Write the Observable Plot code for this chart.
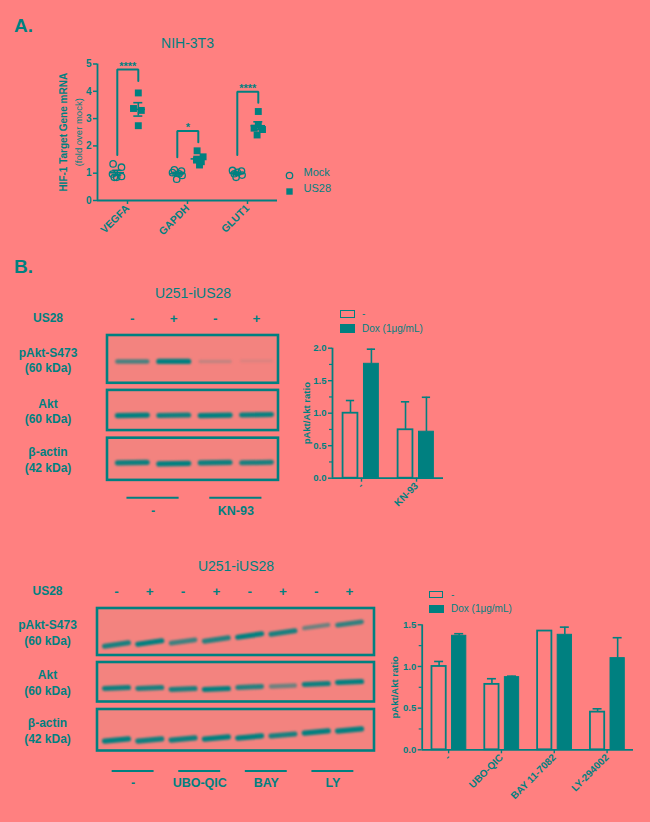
<!DOCTYPE html>
<html><head><meta charset="utf-8">
<script src="https://cdn.jsdelivr.net/npm/d3@7"></script>
<script src="https://cdn.jsdelivr.net/npm/@observablehq/plot@0.6"></script>
<style>
html,body{margin:0;padding:0;background:#ff8080;}
#root{position:relative;width:650px;height:822px;background:#ff8080;font-family:"Liberation Sans",Arial,Helvetica,sans-serif;color:#008080;overflow:hidden}
.letter{position:absolute;font-weight:bold;font-size:19px;line-height:1;}
.sw{position:absolute;box-sizing:border-box;border:1.7px solid #008080;background:#ff8080}
.sw.f{background:#008080}
.lt{position:absolute;font-size:10px;line-height:10px;white-space:nowrap}
svg.blot g[aria-label="link"]{filter:blur(1.2px)}
</style>
</head><body><div id="root"></div>
<script>
// ---------------- DATA ----------------
// Panel A: NIH-3T3 HIF-1 target gene mRNA (fold over mock)
const geneCategories = ["VEGFA", "GAPDH", "GLUT1"];
const mockValues = [
  [1.34, 1.22, 0.97, 0.88, 0.85, 0.85],
  [1.12, 1.08, 1.02, 0.98, 0.92, 0.78],
  [1.10, 1.08, 1.03, 0.98, 0.93, 0.85]
];
const mockSpread = [
  [-0.07, 0.07, -0.08, 0.07, -0.05, -0.01],
  [-0.05, 0.07, -0.08, 0.03, 0.08, -0.01],
  [-0.08, 0.07, 0.0, -0.05, 0.08, -0.02]
];
const us28Values = [
  [3.94, 3.37, 3.30, 2.74],
  [1.82, 1.60, 1.48, 1.42, 1.30],
  [3.26, 2.78, 2.65, 2.60, 2.40]
];
const us28Spread = [
  [0.0, -0.08, 0.05, 0.0],
  [-0.02, 0.08, -0.03, 0.05, 0.02],
  [0.0, 0.0, -0.07, 0.07, -0.02]
];
const bracketLeft = [1.67, 1.58, 1.67];
const bracketTop = [4.80, 2.55, 3.98];
const bracketRight = [4.38, 2.13, 3.58];
const bracketStars = ["****", "*", "****"];

// Panel B blots
const rowLabels = ["pAkt-S473\n(60 kDa)", "Akt\n(60 kDa)", "β-actin\n(42 kDa)"];
const blotTitle = "U251-iUS28";

const blotA_signs = ["-", "+", "-", "+"];
const blotA_intensity = [[0.7, 1.0, 0.2, 0.09], [1.0, 0.95, 1.0, 0.97], [0.95, 1.0, 0.95, 0.9]];
const blotA_bandY = [[0.51, 0.51, 0.51, 0.50], [1.57, 1.57, 1.57, 1.56], [2.50, 2.52, 2.50, 2.50]];
const blotA_treatments = ["-", "KN-93"];
const blotA_treatmentLanes = [[0, 1], [2, 3]];

const blotB_signs = ["-", "+", "-", "+", "-", "+", "-", "+"];
const blotB_intensity = [
  [0.9, 1.0, 0.75, 0.85, 1.0, 0.9, 0.55, 0.8],
  [0.95, 0.9, 0.9, 1.0, 0.85, 0.55, 0.95, 1.0],
  [1.0, 0.95, 0.95, 1.0, 1.0, 0.9, 1.0, 1.0]
];
const blotB_bandY = [
  [0.72, 0.68, 0.66, 0.62, 0.54, 0.48, 0.36, 0.30],
  [1.59, 1.59, 1.61, 1.61, 1.57, 1.55, 1.51, 1.47],
  [2.63, 2.63, 2.61, 2.59, 2.57, 2.53, 2.47, 2.43]
];
const blotB_treatments = ["-", "UBO-QIC", "BAY", "LY"];
const blotB_treatmentLanes = [[0, 1], [2, 3], [4, 5], [6, 7]];

// Panel B quantification (pAkt/Akt ratio)
const kn93Groups = ["-", "KN-93"];
const kn93Ctrl = [1.0, 0.745];
const kn93CtrlErr = [0.195, 0.43];
const kn93Dox = [1.76, 0.715];
const kn93DoxErr = [0.225, 0.53];

const inhibGroups = ["-", "UBO-QIC", "BAY 11-7082", "LY-294002"];
const inhibCtrl = [1.0, 0.785, 1.425, 0.452];
const inhibCtrlErr = [0.06, 0.068, 0.0, 0.04];
const inhibDox = [1.368, 0.872, 1.38, 1.1];
const inhibDoxErr = [0.025, 0.012, 0.092, 0.245];

const legendLabels = ["-", "Dox (1μg/mL)"];
const seriesA = ["Mock", "US28"];

// ---------------- STYLE / LAYOUT ----------------
const TEAL = "#008080", BG = "#ff8080", BLOT = "#f3837f";
const FONT = '"Liberation Sans", Arial, Helvetica, sans-serif';
const root = document.getElementById("root");
const baseStyle = {fontFamily: FONT, fontSize: "10px", color: TEAL, background: "transparent", overflow: "visible"};

function place(node, left, top) {
  const w = document.createElement("div");
  w.style.cssText = `position:absolute;left:${left}px;top:${top}px;`;
  w.appendChild(node);
  root.appendChild(w);
  return w;
}
function html(cls, left, top, text, extra = "") {
  const d = document.createElement("div");
  d.className = cls;
  d.style.cssText = `left:${left}px;top:${top}px;${extra}`;
  if (text != null) d.textContent = text;
  root.appendChild(d);
}

// ---------------- PANEL A ----------------
html("letter", 14, 15.6, "A.");
html("letter", 14, 257, "B.");

const MOCK_OFF = -0.17, US_OFF = 0.18;
const pts = [];
geneCategories.forEach((g, i) => {
  mockValues[i].forEach((v, j) => pts.push({i, grp: "Mock", v, x: i + MOCK_OFF + mockSpread[i][j]}));
  us28Values[i].forEach((v, j) => pts.push({i, grp: "US28", v, x: i + US_OFF + us28Spread[i][j]}));
});
const summary = d3.flatRollup(pts,
  v => ({mean: d3.mean(v, d => d.v), sem: d3.deviation(v, d => d.v) / Math.sqrt(v.length)}),
  d => d.i, d => d.grp
).map(([i, grp, s]) => ({i, grp, cx: i + (grp === "Mock" ? MOCK_OFF : US_OFF), ...s}));
const caps = summary.flatMap(d => [{...d, yy: d.mean - d.sem}, {...d, yy: d.mean + d.sem}]);
const bracketPts = bracketTop.flatMap((t, i) => [
  {i, x: i + MOCK_OFF, y: bracketLeft[i]},
  {i, x: i + MOCK_OFF, y: t},
  {i, x: i + US_OFF, y: t},
  {i, x: i + US_OFF, y: bracketRight[i]}
]);

const chartA = Plot.plot({
  width: 340, height: 250,
  marginLeft: 97, marginRight: 63, marginTop: 63.5, marginBottom: 50,
  x: {domain: [-0.5, 2.5]},
  y: {domain: [0, 5]},
  style: baseStyle,
  marks: [
    Plot.axisY({ticks: [0, 1, 2, 3, 4, 5], tickFormat: "d", tickSize: 4, tickPadding: 2, fontWeight: "bold", fontSize: 10, label: null, strokeWidth: 1.5}),
    Plot.axisX({ticks: [0, 1, 2], tickFormat: i => geneCategories[i], tickRotate: -45, tickSize: 4, tickPadding: 2, fontWeight: "bold", fontSize: 10.5, label: null, strokeWidth: 1.5}),
    Plot.ruleX([-0.5], {stroke: TEAL, strokeWidth: 1.8}),
    Plot.ruleY([0], {stroke: TEAL, strokeWidth: 1.8}),
    Plot.line(bracketPts, {x: "x", y: "y", z: "i", stroke: TEAL, strokeWidth: 2, strokeLinejoin: "miter"}),
    Plot.text(bracketStars, {x: (d, i) => i + (MOCK_OFF + US_OFF) / 2, y: (d, i) => bracketTop[i], dy: -3, text: d => d, fontWeight: "bold", fontSize: 11}),
    Plot.dot(pts.filter(d => d.grp === "Mock"), {x: "x", y: "v", symbol: "circle", r: 3.2, stroke: TEAL, strokeWidth: 1.3, fill: "none"}),
    Plot.dot(pts.filter(d => d.grp === "US28"), {x: "x", y: "v", symbol: "square", r: 3.9, fill: TEAL, stroke: "none"}),
    Plot.ruleY(summary, {y: "mean", x1: d => d.cx - 0.12, x2: d => d.cx + 0.12, stroke: TEAL, strokeWidth: 1.6}),
    Plot.ruleX(summary, {x: "cx", y1: d => d.mean - d.sem, y2: d => d.mean + d.sem, stroke: TEAL, strokeWidth: 1.6}),
    Plot.ruleY(caps, {y: "yy", x1: d => d.cx - 0.075, x2: d => d.cx + 0.075, stroke: TEAL, strokeWidth: 1.6}),
    Plot.text(["HIF-1 Target Gene mRNA"], {frameAnchor: "left", textAnchor: "middle", rotate: -90, dx: -34, text: d => d, fontWeight: "bold", fontSize: 10}),
    Plot.text(["(fold over mock)"], {frameAnchor: "left", textAnchor: "middle", rotate: -90, dx: -19, text: d => d, fontSize: 9.5}),
    Plot.text(["NIH-3T3"], {frameAnchor: "top", dy: -25.5, text: d => d, fontSize: 14}),
    Plot.dot([seriesA[0]], {frameAnchor: "bottom-right", dx: 12, dy: -25, symbol: "circle", r: 3.2, stroke: TEAL, strokeWidth: 1.3, fill: "none"}),
    Plot.dot([seriesA[1]], {frameAnchor: "bottom-right", dx: 12, dy: -9, symbol: "square", r: 3.6, fill: TEAL}),
    Plot.text([seriesA[0]], {frameAnchor: "bottom-right", dx: 26, dy: -25, textAnchor: "start", text: d => d, fontSize: 11}),
    Plot.text([seriesA[1]], {frameAnchor: "bottom-right", dx: 26, dy: -9, textAnchor: "start", text: d => d, fontSize: 11})
  ]
});
place(chartA, 0, 0);

// ---------------- BLOTS ----------------
const ROW_SPANS = [[0, 0.94], [1.08, 1.87], [2.02, 2.85]];
function blot({signs, intensity, bandY, treatments, treatmentLanes, width, height, marginLeft, marginRight, marginTop, xDomain, laneHalf, tilt, labelDx, treatY, treatLabelY}) {
  const bands = intensity.flatMap((row, r) => row.map((a, l) => ({r, l, a, y: bandY[r][l]})));
  const rows = rowLabels.map((label, r) => ({label, y1: ROW_SPANS[r][0], y2: ROW_SPANS[r][1]}));
  const treat = treatments.map((t, k) => ({t, c: d3.mean(treatmentLanes[k])}));
  const svg = Plot.plot({
    width, height, marginLeft, marginRight, marginTop, marginBottom: 2,
    x: {domain: xDomain, axis: null},
    y: {domain: [0, 3.6], reverse: true, axis: null},
    style: baseStyle,
    marks: [
      Plot.rect(rows, {x1: () => xDomain[0], x2: () => xDomain[1], y1: "y1", y2: "y2", fill: BLOT, stroke: TEAL, strokeWidth: 2.6}),
      Plot.link(bands, {
        x1: d => d.l - laneHalf, x2: d => d.l + laneHalf,
        y1: d => d.y + tilt[d.r], y2: d => d.y - tilt[d.r],
        stroke: TEAL, strokeOpacity: d => d.a, strokeWidth: d => 3.2 + 2 * d.a, strokeLinecap: "round"
      }),
      Plot.text(rows, {y: d => (d.y1 + d.y2) / 2, frameAnchor: "left", textAnchor: "middle", dx: labelDx, text: "label", fontWeight: "bold", fontSize: 12, lineHeight: 1.3}),
      Plot.text(signs, {x: (d, i) => i, frameAnchor: "top", dy: -22, text: d => d, fontWeight: "bold", fontSize: 13.5}),
      Plot.text(["US28"], {frameAnchor: "top-left", textAnchor: "middle", dx: labelDx, dy: -22, text: d => d, fontWeight: "bold", fontSize: 12}),
      Plot.text([blotTitle], {frameAnchor: "top", dy: -47, text: d => d, fontSize: 14}),
      Plot.ruleY(treat, {y: () => treatY, x1: d => d.c - 0.63, x2: d => d.c + 0.63, stroke: TEAL, strokeWidth: 2}),
      Plot.text(treat, {x: "c", y: () => treatLabelY, text: "t", fontWeight: "bold", fontSize: 12.5})
    ]
  });
  svg.classList.add("blot");
  return svg;
}

place(blot({
  signs: blotA_signs, intensity: blotA_intensity, bandY: blotA_bandY,
  treatments: blotA_treatments, treatmentLanes: blotA_treatmentLanes,
  width: 293, height: 240, marginLeft: 107, marginRight: 15, marginTop: 55,
  xDomain: [-0.6, 3.53], laneHalf: 0.36, tilt: [0, 0.005, 0.005], labelDx: -59.5,
  treatY: 3.19, treatLabelY: 3.45
}), 0, 280);

place(blot({
  signs: blotB_signs, intensity: blotB_intensity, bandY: blotB_bandY,
  treatments: blotB_treatments, treatmentLanes: blotB_treatmentLanes,
  width: 385, height: 245, marginLeft: 97, marginRight: 11, marginTop: 63,
  xDomain: [-0.57, 7.75], laneHalf: 0.36, tilt: [0.034, 0.01, 0.022], labelDx: -50,
  treatY: 3.25, treatLabelY: 3.49
}), 0, 545);

// ---------------- BAR CHARTS ----------------
function bars({groups, ctrl, ctrlErr, dox, doxErr, yMax, majors, minors, width, height, marginLeft, marginRight, marginTop, marginBottom, xDomain, offOpen, offFill, half, capHalf, labelDx}) {
  const data = groups.flatMap((g, i) => [
    {i, kind: "ctrl", v: ctrl[i], e: ctrlErr[i], cx: i + offOpen},
    {i, kind: "dox", v: dox[i], e: doxErr[i], cx: i + offFill}
  ]);
  const errs = data.filter(d => d.e > 0);
  return Plot.plot({
    width, height, marginLeft, marginRight, marginTop, marginBottom,
    x: {domain: xDomain},
    y: {domain: [0, yMax]},
    style: baseStyle,
    marks: [
      Plot.axisY({ticks: majors, tickFormat: ".1f", tickSize: 4, tickPadding: 2, fontWeight: "bold", fontSize: 9.5, label: null, strokeWidth: 1.4}),
      Plot.axisY({ticks: minors, tickFormat: () => "", tickSize: 3, label: null, strokeWidth: 1.2}),
      Plot.axisX({ticks: groups.map((g, i) => i), tickFormat: i => groups[i], tickRotate: -45, tickSize: 4, tickPadding: 2, fontWeight: "bold", fontSize: 10, label: null, strokeWidth: 1.4}),
      Plot.ruleX(errs, {x: "cx", y1: "v", y2: d => d.v + d.e, stroke: TEAL, strokeWidth: 1.6}),
      Plot.ruleY(errs, {y: d => d.v + d.e, x1: d => d.cx - capHalf, x2: d => d.cx + capHalf, stroke: TEAL, strokeWidth: 1.6}),
      Plot.rect(data.filter(d => d.kind === "ctrl"), {x1: d => d.cx - half, x2: d => d.cx + half, y1: () => 0, y2: "v", fill: BG, stroke: TEAL, strokeWidth: 1.8}),
      Plot.rect(data.filter(d => d.kind === "dox"), {x1: d => d.cx - half, x2: d => d.cx + half, y1: () => 0, y2: "v", fill: TEAL, stroke: TEAL, strokeWidth: 1}),
      Plot.ruleX([xDomain[0]], {stroke: TEAL, strokeWidth: 1.8}),
      Plot.ruleY([0], {stroke: TEAL, strokeWidth: 1.8}),
      Plot.text(["pAkt/Akt ratio"], {frameAnchor: "left", textAnchor: "middle", rotate: -90, dx: labelDx, text: d => d, fontWeight: "bold", fontSize: 9.5})
    ]
  });
}

place(bars({
  groups: kn93Groups, ctrl: kn93Ctrl, ctrlErr: kn93CtrlErr, dox: kn93Dox, doxErr: kn93DoxErr,
  yMax: 2, majors: [0, 0.5, 1, 1.5, 2], minors: [0.25, 0.75, 1.25, 1.75],
  width: 160, height: 230, marginLeft: 32, marginRight: 17, marginTop: 57.7, marginBottom: 42.3,
  xDomain: [-0.527, 1.49], offOpen: -0.2, offFill: 0.18, half: 0.135, capHalf: 0.075, labelDx: -26
}), 300, 290);

place(bars({
  groups: inhibGroups, ctrl: inhibCtrl, ctrlErr: inhibCtrlErr, dox: inhibDox, doxErr: inhibDoxErr,
  yMax: 1.5, majors: [0, 0.5, 1, 1.5], minors: [0.25, 0.75, 1.25],
  width: 270, height: 220, marginLeft: 41.7, marginRight: 17, marginTop: 44.3, marginBottom: 50.7,
  xDomain: [-0.5, 3.5], offOpen: -0.18, offFill: 0.2, half: 0.135, capHalf: 0.085, labelDx: -27
}), 380, 580);

// legends (HTML guides)
html("sw", 340, 310, null, "width:15px;height:7.5px;");
html("sw f", 340, 324, null, "width:15px;height:9px;");
html("lt", 362, 308.5, legendLabels[0]);
html("lt", 362, 324, legendLabels[1]);
html("sw", 429, 591, null, "width:14px;height:7px;");
html("sw f", 429, 605, null, "width:15px;height:7.5px;");
html("lt", 451, 589.5, legendLabels[0]);
html("lt", 451, 604, legendLabels[1]);
</script>
</body></html>
